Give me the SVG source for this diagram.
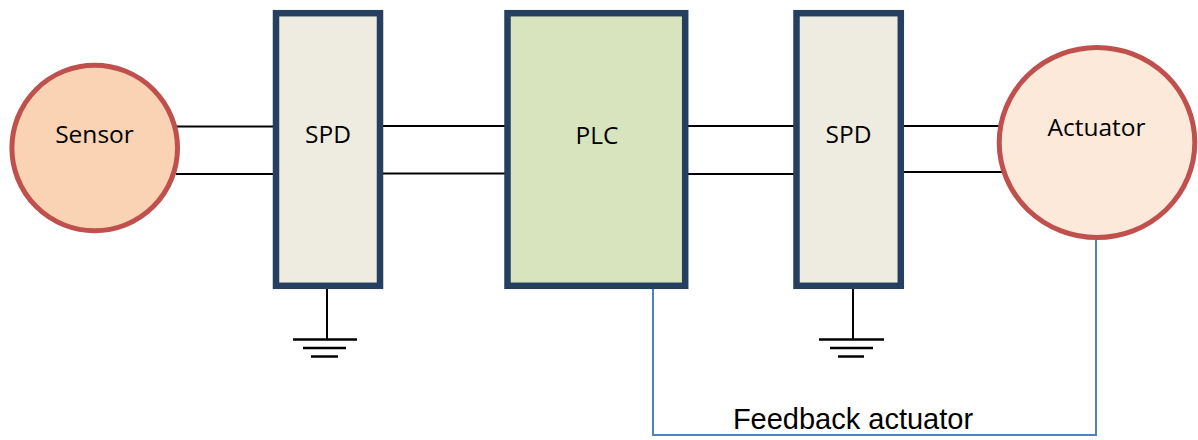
<svg xmlns="http://www.w3.org/2000/svg" width="1198" height="440" viewBox="0 0 1198 440">
  <style>
    .wire { stroke: #000; stroke-width: 2; fill: none; }
    .gnd { stroke: #000; stroke-width: 2.5; fill: none; }
    .feedback { stroke: #4F81BD; stroke-width: 2; fill: none; }
    .spd { fill: #EEECE1; stroke: #243F60; stroke-width: 6.5; }
    .plc { fill: #D7E4BD; stroke: #243F60; stroke-width: 6.5; }
    .circ { stroke: #C0504D; stroke-width: 5; }
    .lbl { font-family: "Open Sans", "Noto Sans", sans-serif; font-size: 24.5px; fill: #000; text-anchor: middle; }
    .flbl { font-family: "Liberation Sans", Arial, sans-serif; font-size: 29px; fill: #000; text-anchor: middle; }
  </style>
  <rect width="1198" height="440" fill="#fff"/>
  <g id="connectors">
    <line class="wire" x1="176" y1="126.5" x2="275" y2="126.5"/>
    <line class="wire" x1="176" y1="174" x2="275" y2="174"/>
    <line class="wire" x1="380" y1="126" x2="507" y2="126"/>
    <line class="wire" x1="380" y1="173.5" x2="507" y2="173.5"/>
    <line class="wire" x1="686" y1="126" x2="796" y2="126"/>
    <line class="wire" x1="686" y1="174" x2="796" y2="174"/>
    <line class="wire" x1="901" y1="126" x2="1001" y2="126"/>
    <line class="wire" x1="901" y1="172" x2="1004" y2="172"/>
    <path class="feedback" d="M653 287 V435 H1096 V240"/>
    <g id="ground1">
      <line class="wire" x1="327" y1="288" x2="327" y2="339.5"/>
      <line class="gnd" x1="293" y1="339.5" x2="357" y2="339.5"/>
      <line class="gnd" x1="303" y1="348" x2="346" y2="348" stroke-width="3"/>
      <line class="gnd" x1="311" y1="356.5" x2="338" y2="356.5"/>
    </g>
    <g id="ground2">
      <line class="wire" x1="853" y1="288" x2="853" y2="339.5"/>
      <line class="gnd" x1="819" y1="339.5" x2="884" y2="339.5"/>
      <line class="gnd" x1="830" y1="348" x2="873" y2="348" stroke-width="3"/>
      <line class="gnd" x1="838" y1="356.5" x2="864" y2="356.5"/>
    </g>
    <text class="flbl" x="853" y="429">Feedback actuator</text>
  </g>
  <g id="sensor">
    <circle class="circ" cx="94.7" cy="148" r="82.8" fill="#FAD3B4"/>
    <text class="lbl" x="94.5" y="142.5">Sensor</text>
  </g>
  <g id="spd1">
    <rect class="spd" x="276" y="13.2" width="104" height="272.6"/>
    <text class="lbl" x="328" y="143">SPD</text>
  </g>
  <g id="plc">
    <rect class="plc" x="507.5" y="13.2" width="177.7" height="272.6"/>
    <text class="lbl" x="597" y="144">PLC</text>
  </g>
  <g id="spd2">
    <rect class="spd" x="796.5" y="13.2" width="104.3" height="272.6"/>
    <text class="lbl" x="848.5" y="143">SPD</text>
  </g>
  <g id="actuator">
    <ellipse class="circ" cx="1097" cy="142.5" rx="97.8" ry="95" fill="#FDE9D9"/>
    <text class="lbl" x="1096.5" y="136">Actuator</text>
  </g>
</svg>
